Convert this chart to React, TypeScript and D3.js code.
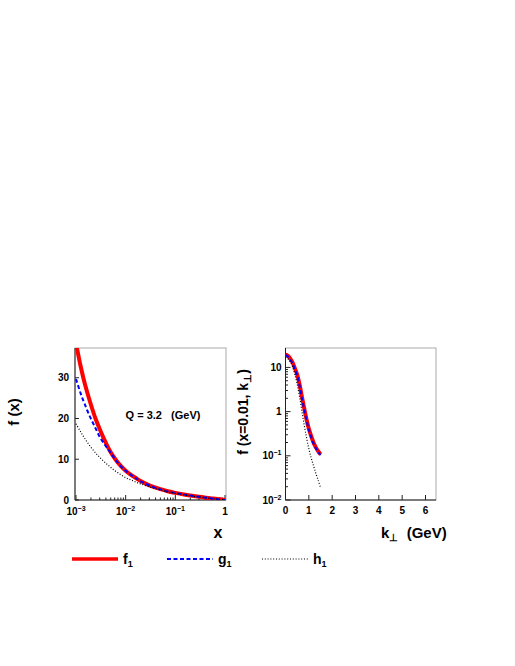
import React from "react";
import * as d3 from "d3";

// ---- data: left panel, f(x) at Q = 3.2 GeV ----
const xVals = [0.001, 0.00123, 0.0015, 0.00195, 0.0025, 0.0031, 0.004, 0.0049, 0.0062, 0.0078, 0.01, 0.0124, 0.016, 0.02, 0.03, 0.05, 0.07, 0.1, 0.15, 0.2, 0.3, 0.5, 0.7, 1.0];
const f1x = [38.5, 33, 28.6, 23.8, 19.8, 17, 14, 11.9, 10.0, 8.5, 7.2, 6.3, 5.4, 4.65, 3.6, 2.65, 2.15, 1.75, 1.35, 1.1, 0.78, 0.45, 0.22, 0.02];
const g1x = [29.7, 26.3, 23.5, 20.2, 17.5, 15.2, 13.2, 11.7, 9.9, 8.4, 7.15, 6.25, 5.35, 4.6, 3.55, 2.6, 2.1, 1.72, 1.32, 1.08, 0.77, 0.44, 0.21, 0.02];
const h1x = [18.7, 16.8, 15.1, 13.1, 11.5, 10.3, 9.0, 8.1, 7.1, 6.3, 5.5, 5.0, 4.4, 3.95, 3.25, 2.45, 2.0, 1.62, 1.27, 1.02, 0.72, 0.4, 0.19, 0.02];

// ---- data: right panel, f(x=0.01, kT) ----
const kVals = [0, 0.1, 0.2, 0.3, 0.4, 0.5, 0.6, 0.7, 0.8, 0.9, 1.0, 1.1, 1.2, 1.3, 1.4, 1.5];
const f1k = [19.5, 18.3, 15.8, 13.0, 9.6, 6.9, 4.2, 2.2, 1.2, 0.67, 0.41, 0.28, 0.2, 0.155, 0.128, 0.108];
const g1k = [18.8, 17.6, 15.1, 12.4, 9.1, 6.5, 3.95, 2.07, 1.13, 0.64, 0.39, 0.265, 0.19, 0.148, 0.122, 0.103];
const h1k = [17, 15.8, 13.5, 10.5, 7.0, 4.2, 2.2, 1.05, 0.5, 0.26, 0.145, 0.09, 0.06, 0.04, 0.028, 0.019];

const leftYTicks = [0, 10, 20, 30];
const leftXTicks = [-3, -2, -1, 0];
const rightYTicks = [-2, -1, 0, 1];
const rightXTicks = [0, 1, 2, 3, 4, 5, 6];

const FONT = "Liberation Sans, Arial, Helvetica, sans-serif";

const series = [
  { name: "f", color: "#ff0000", width: 4, dash: "none" },
  { name: "g", color: "#0000ff", width: 2, dash: "4,2.5" },
  { name: "h", color: "#000000", width: 1.2, dash: "1,1.8" },
];

function Pow10({ x, y, e, anchor }: { x: number; y: number; e: number; anchor: string }) {
  if (e === 0) {
    return (
      <text x={x} y={y} textAnchor={anchor} fontSize={10} fontWeight="bold" fontFamily={FONT}>1</text>
    );
  }
  if (e === 1) {
    return (
      <text x={x} y={y} textAnchor={anchor} fontSize={10} fontWeight="bold" fontFamily={FONT}>10</text>
    );
  }
  return (
    <text x={x} y={y} textAnchor={anchor} fontSize={10} fontWeight="bold" fontFamily={FONT}>
      10<tspan fontSize={7} dy={-4}>{String(e).replace("-", "\u2212")}</tspan>
    </text>
  );
}

export default function App() {
  const L = { x0: 75, x1: 226, y0: 348, y1: 500 };
  const lx = d3.scaleLog().domain([0.001, 1]).range([L.x0 + 1, L.x1 - 1]);
  const ly = d3.scaleLinear().domain([0, 37.3]).range([L.y1, L.y0]);

  const R = { x0: 285.5, x1: 436, y0: 348, y1: 500 };
  const rx = d3.scaleLinear().domain([0, 6.45]).range([R.x0, R.x1]);
  const ry = d3.scaleLog().domain([0.01, 27.5]).range([R.y1, R.y0]);

  const lineL = (ys: number[]) =>
    d3.line<number>().x((_, i) => lx(xVals[i])).y((v) => ly(v)).curve(d3.curveCatmullRom.alpha(0.5))(ys) || "";
  const lineR = (ys: number[]) =>
    d3.line<number>().x((_, i) => rx(kVals[i])).y((v) => ry(v)).curve(d3.curveCatmullRom.alpha(0.5))(ys) || "";

  const leftSeries = [f1x, g1x, h1x];
  const rightSeries = [f1k, g1k, h1k];

  const lxMinor: number[] = [];
  for (let e = -3; e < 0; e++) for (let m = 2; m <= 9; m++) lxMinor.push(m * Math.pow(10, e));
  const ryMinor: number[] = [];
  for (let e = -2; e <= 1; e++)
    for (let m = 2; m <= 9; m++) {
      const v = m * Math.pow(10, e);
      if (v <= 27.5) ryMinor.push(v);
    }

  const legendX = [72, 167, 262];

  return (
    <svg width={515} height={666} style={{ position: "absolute", left: 0, top: 0, display: "block" }}>
      <defs>
        <clipPath id="clipL">
          <rect x={L.x0} y={L.y0} width={L.x1 - L.x0} height={L.y1 - L.y0} />
        </clipPath>
        <clipPath id="clipR">
          <rect x={R.x0} y={R.y0} width={R.x1 - R.x0} height={R.y1 - R.y0} />
        </clipPath>
      </defs>
      <rect x={0} y={0} width={515} height={666} fill="white" />
      {/* ---------- LEFT PANEL ---------- */}
      <rect x={L.x0} y={L.y0} width={L.x1 - L.x0} height={L.y1 - L.y0} fill="white" stroke="#aaa" strokeWidth={1} />
      <line x1={L.x0} x2={L.x0} y1={L.y0} y2={L.y1} stroke="#222" strokeWidth={1} />
      <line x1={L.x0} x2={L.x1} y1={L.y1} y2={L.y1} stroke="#222" strokeWidth={1} />
      {leftYTicks.map((t) => (
        <g key={"ly" + t}>
          <line x1={L.x0} x2={L.x0 + 4} y1={ly(t)} y2={ly(t)} stroke="#222" />
          <text x={L.x0 - 6} y={ly(t) + 3.5} textAnchor="end" fontSize={10} fontWeight="bold" fontFamily={FONT}>{t}</text>
        </g>
      ))}
      {leftXTicks.map((e) => (
        <g key={"lx" + e}>
          <line x1={lx(Math.pow(10, e))} x2={lx(Math.pow(10, e))} y1={L.y1} y2={L.y1 - 5} stroke="#222" />
          <Pow10 x={lx(Math.pow(10, e))} y={L.y1 + 15} e={e} anchor="middle" />
        </g>
      ))}
      {lxMinor.map((v, i) => (
        <line key={"lxm" + i} x1={lx(v)} x2={lx(v)} y1={L.y1} y2={L.y1 - 2.5} stroke="#222" />
      ))}
      <g clipPath="url(#clipL)">
        {leftSeries.map((s, i) => (
          <path key={"lp" + i} d={lineL(s)} fill="none" stroke={series[i].color} strokeWidth={series[i].width} strokeDasharray={series[i].dash} />
        ))}
      </g>
      <text x={163} y={419} textAnchor="middle" fontSize={11} fontWeight="bold" fontFamily={FONT} style={{ whiteSpace: "pre" }}>
        {"Q = 3.2   (GeV)"}
      </text>
      <text transform="translate(19,412) rotate(-90)" textAnchor="middle" fontSize={15} fontWeight="bold" fontFamily={FONT}>f (x)</text>
      <text x={218} y={538} textAnchor="middle" fontSize={16} fontWeight="bold" fontFamily={FONT}>x</text>

      {/* ---------- RIGHT PANEL ---------- */}
      <rect x={R.x0} y={R.y0} width={R.x1 - R.x0} height={R.y1 - R.y0} fill="white" stroke="#aaa" strokeWidth={1} />
      <line x1={R.x0} x2={R.x0} y1={R.y0} y2={R.y1} stroke="#222" strokeWidth={1} />
      <line x1={R.x0} x2={R.x1} y1={R.y1} y2={R.y1} stroke="#222" strokeWidth={1} />
      {rightYTicks.map((e) => (
        <g key={"ry" + e}>
          <line x1={R.x0} x2={R.x0 + 5} y1={ry(Math.pow(10, e))} y2={ry(Math.pow(10, e))} stroke="#222" />
          <Pow10 x={R.x0 - 4} y={ry(Math.pow(10, e)) + 3.5} e={e} anchor="end" />
        </g>
      ))}
      {ryMinor.map((v, i) => (
        <line key={"rym" + i} x1={R.x0} x2={R.x0 + 2.5} y1={ry(v)} y2={ry(v)} stroke="#222" />
      ))}
      {rightXTicks.map((t) => (
        <g key={"rx" + t}>
          <line x1={rx(t)} x2={rx(t)} y1={R.y1} y2={R.y1 - 5} stroke="#222" />
          <text x={rx(t)} y={R.y1 + 14} textAnchor="middle" fontSize={10} fontWeight="bold" fontFamily={FONT}>{t}</text>
        </g>
      ))}
      <g clipPath="url(#clipR)">
        {rightSeries.map((s, i) => (
          <path key={"rp" + i} d={lineR(s)} fill="none" stroke={series[i].color} strokeWidth={series[i].width} strokeDasharray={series[i].dash} />
        ))}
      </g>
      <text transform="translate(248,412) rotate(-90)" textAnchor="middle" fontSize={14} fontWeight="bold" fontFamily={FONT}>
        f (x=0.01, k<tspan fontSize={10} dy={3}>⊥</tspan><tspan dy={-3}>)</tspan>
      </text>
      <text x={381} y={538} textAnchor="start" fontSize={15} fontWeight="bold" fontFamily={FONT} style={{ whiteSpace: "pre" }}>
        k<tspan fontSize={10} dy={3}>⊥</tspan><tspan dy={-3}>{"  (GeV)"}</tspan>
      </text>

      {/* ---------- LEGEND ---------- */}
      {series.map((s, i) => (
        <g key={"lg" + i}>
          <line x1={legendX[i]} x2={legendX[i] + 46} y1={559} y2={559} stroke={s.color} strokeWidth={s.width === 4 ? 3.5 : s.width} strokeDasharray={s.dash} />
          <text x={legendX[i] + 51} y={564} fontSize={14} fontWeight="bold" fontFamily={FONT}>
            {s.name}<tspan fontSize={9} dy={3}>1</tspan>
          </text>
        </g>
      ))}
    </svg>
  );
}
